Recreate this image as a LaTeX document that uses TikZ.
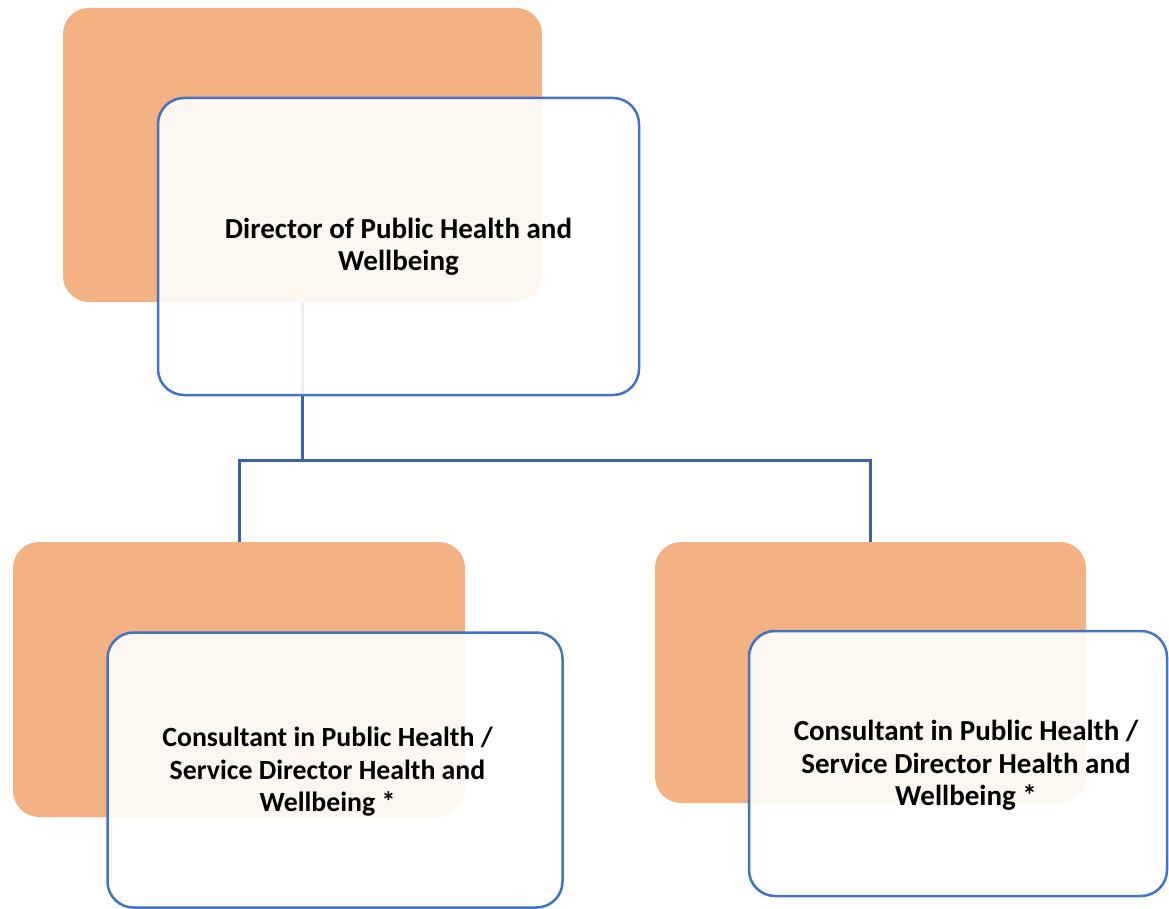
\documentclass[tikz,border=0pt]{standalone}
\usepackage{fontspec}
\setmainfont{Carlito}
\definecolor{orangebox}{HTML}{F4B183}
\definecolor{boxblue}{HTML}{4472C4}
\definecolor{linkblue}{HTML}{3F62A6}
\tikzset{
  backbox/.style={rectangle, rounded corners=26pt, fill=orangebox, draw=none, inner sep=0pt, outer sep=0pt},
  frontbox/.style={rectangle, rounded corners=26pt, draw=boxblue, line width=2.5pt, fill=white, fill opacity=0.9, inner sep=0pt, outer sep=0pt},
  boxtext/.style={inner sep=0pt, align=center, font=\fontsize{27.8}{32.5}\selectfont\bfseries},
  bigtext/.style={boxtext, font=\fontsize{29}{32.5}\selectfont\bfseries},
  link/.style={draw=linkblue, line width=3pt}
}
\begin{document}
\begin{tikzpicture}[x=1pt,y=-1pt]
\useasboundingbox (0,0) rectangle (1169,909);
% back boxes
\node[backbox, minimum width=479pt, minimum height=294pt] (topback) at (302.5,155) {};
\node[backbox, minimum width=452pt, minimum height=275pt] (leftback) at (239,679.5) {};
\node[backbox, minimum width=431pt, minimum height=261pt] (rightback) at (870.5,672.5) {};
% connectors
\coordinate (junction) at (302.5,460);
\draw[link] (topback.south) -- (junction) -| (leftback.north);
\draw[link] (junction) -| (rightback.north);
% front boxes
\node[frontbox, minimum width=481pt, minimum height=297pt] (topfront) at (398.5,246.5) {};
\node[frontbox, minimum width=455pt, minimum height=275pt] (leftfront) at (335,770) {};
\node[frontbox, minimum width=418pt, minimum height=265pt] (rightfront) at (958,763.5) {};
% texts
\node[bigtext] (toptext) at (398.5,247) {Director of Public Health and\\Wellbeing};
\node[boxtext] (lefttext) at (327.5,772) {Consultant in Public Health /\\Service Director Health and\\Wellbeing *};
\node[bigtext] (righttext) at (966,765.5) {Consultant in Public Health /\\Service Director Health and\\Wellbeing *};
\end{tikzpicture}
\end{document}
